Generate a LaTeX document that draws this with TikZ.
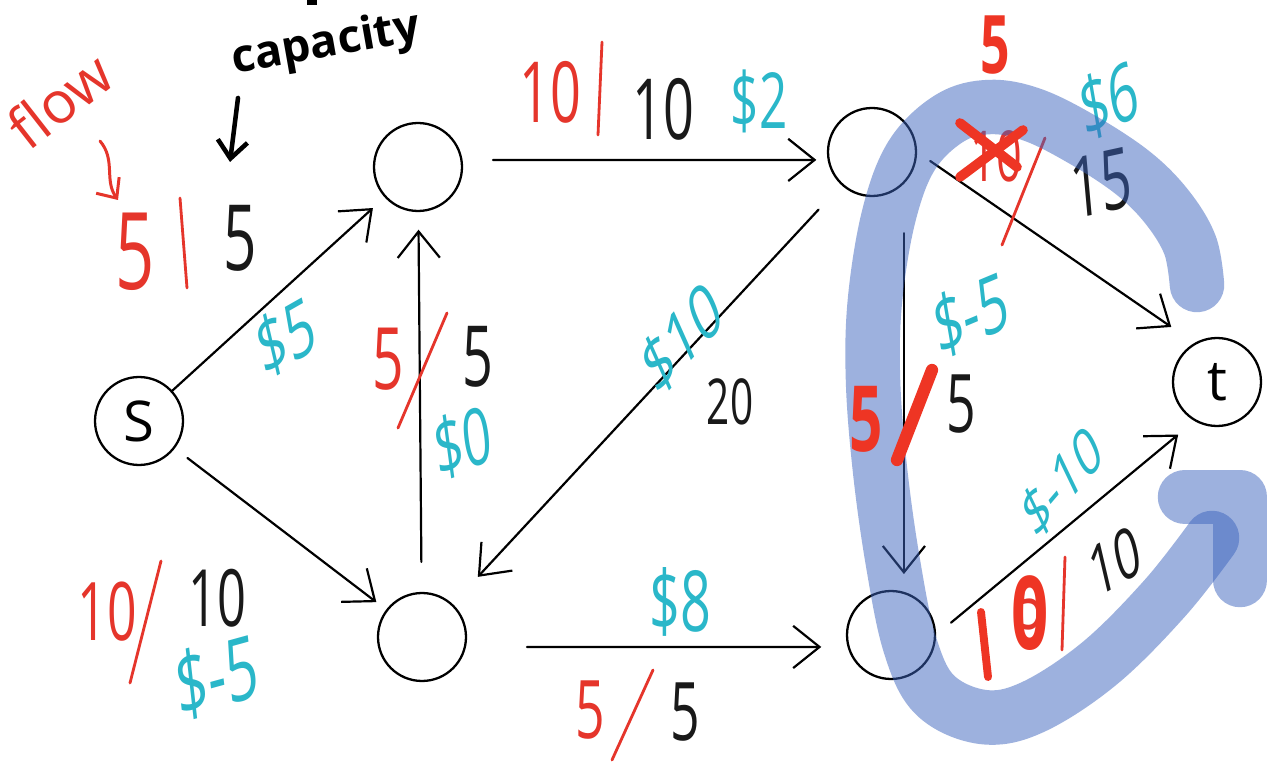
\documentclass[tikz,border=0pt]{standalone}
\usepackage{fontspec}
\setmainfont{Open Sans}
\usetikzlibrary{arrows.meta}
\definecolor{myred}{HTML}{E5352B}
\definecolor{boldred}{HTML}{EE3524}
\definecolor{mycyan}{HTML}{2AB7C9}
\definecolor{hlblue}{RGB}{60,100,190}
\newcommand\myfs[1]{\fontsize{#1}{#1}\selectfont}
\begin{document}
\begin{tikzpicture}[x=0.02cm,y=-0.02cm,
  vtx/.style={circle, draw=black, line width=1.3pt, minimum size=1.76cm, inner sep=0pt, font=\myfs{32}},
  edge/.style={line width=1.25pt, line cap=round, -{Straight Barb[length=15pt,width=24pt]}},
  hw/.style={inner sep=0pt, xscale=0.64},
  blk/.style={hw, text=black!90},
  flw/.style={hw, text=myred},
  cst/.style={hw, text=mycyan},
  bflw/.style={hw, text=boldred, font=\bfseries},
  redline/.style={draw=myred, line width=1.6pt, line cap=round},
  boldline/.style={draw=boldred, line cap=round},
  hl/.style={draw=hlblue, draw opacity=0.5, line width=31pt, line cap=round, line join=round}
]
\useasboundingbox (0,0) rectangle (1268,763);
\fill[white] (0,0) rectangle (1268,763);

% vertices
\node[vtx] (s) at (139,421) {S};
\node[vtx] (A) at (418,167) {};
\node[vtx] (B) at (422,637) {};
\node[vtx] (C) at (872,152) {};
\node[vtx] (D) at (891,635) {};
\node[vtx] (t) at (1217,382) {t};

% edges
\draw[edge, shorten >=9pt] (s) -- (A);
\draw[edge, shorten <=9pt, shorten >=7pt] (s) -- (B);
\draw[edge, shorten <=17pt, shorten >=10pt] (B) -- (A);
\draw[edge, shorten <=17pt, shorten >=6pt] ([yshift=4pt]A.east) -- ([yshift=-4.5pt]C.west);
\draw[edge, shorten <=19pt, shorten >=21pt] (C) -- (B);
\draw[edge, shorten <=34pt, shorten >=14pt] ([yshift=-5.7pt]B.east) -- ([yshift=-6.8pt]D.west);
\draw[edge, shorten <=28pt, shorten >=9pt] (C.-45) -- (C.-45 |- D.north);
\draw[edge, shorten <=9pt, shorten >=16pt] (C.east) -- (t.120);
\draw[edge, shorten <=11pt, shorten >=12pt] (D.east) -- (t.240);

% annotations: flow / capacity
\node[inner sep=0pt, text=myred, rotate=38] (lflow) at (60,100) {\myfs{33}flow};
\coordinate (fa1) at (100,141);
\coordinate (fa2) at (118,200);
\draw[myred, line width=1.7pt, line cap=round, -{Straight Barb[length=9pt,width=16pt]}] (fa1) .. controls (116,160) and (104,180) .. (fa2);
\node[inner sep=0pt, rotate=10] (lcap) at (326,45) {\myfs{26}\bfseries capacity};
\fill[black] (307,0) rectangle (317,5);
\coordinate (ca1) at (238,98);
\coordinate (ca2) at (230,162);
\draw[line width=2.6pt, line cap=round, -{Straight Barb[length=10pt,width=17pt]}] (ca1) -- (ca2);

% s -> A
\node[flw] (f1) at (135,252) {\myfs{61}5};
\draw[redline] (180,198) -- (187,288);
\node[blk] (c1) at (240,238) {\myfs{52}5};
\node[cst, rotate=20] (p1) at (286,337) {\myfs{45}\$5};

% B -> A
\node[flw] (f2) at (388,359) {\myfs{49}5};
\draw[redline] (447,313) -- (398,428);
\node[blk] (c2) at (478,357) {\myfs{48}5};
\node[cst, rotate=12] (p2) at (463,442) {\myfs{45}\$0};

% A -> C
\node[flw] (f3) at (550,92) {\myfs{48}10};
\draw[redline] (602,42) -- (598,135);
\node[blk] (c3) at (663,109) {\myfs{48}10};
\node[cst] (p3) at (759,101) {\myfs{44}\$2};

% C -> B
\node[cst, rotate=35] (p4) at (682,338) {\myfs{44}\$10};
\node[blk] (c4) at (730,402) {\myfs{36}20};

% s -> B
\node[flw] (f5) at (107,612) {\myfs{46}10};
\draw[redline] (161,561) -- (130,683);
\node[blk] (c5) at (217,598) {\myfs{45}10};
\node[cst, rotate=10] (p5) at (217,677) {\myfs{50}\$-5};

% B -> D
\node[cst] (p6) at (680,602) {\myfs{48}\$8};
\node[flw] (f6) at (590,710) {\myfs{46}5};
\draw[redline] (653,670) -- (612,760);
\node[blk] (c6) at (685,712) {\myfs{46}5};

% C -> t
\node[cst, rotate=15] (p7) at (1109,100) {\myfs{46}\$6};
\node[flw] (f7) at (996,156) {\myfs{40}10};
\draw[redline] (1045,138) -- (1002,245);
\node[blk, rotate=8] (c7) at (1101,183) {\myfs{48}15};

% C -> D
\node[cst, rotate=15] (p8) at (971,315) {\myfs{46}\$-5};
\node[blk] (c8) at (961,404) {\myfs{46}5};

% D -> t
\node[cst, rotate=37] (p9) at (1062,482) {\myfs{38}\$-10};
\node[blk, rotate=20] (c9) at (1115,561) {\myfs{40}10};
\node[flw] (f9) at (1030,605) {\myfs{40}5};
\draw[redline] (1065,557) -- (1062,650);

% highlight
\draw[hl] plot[smooth, tension=0.6] coordinates {(1197,285) (1190,245) (1167,207) (1133,173) (1083,140) (1033,115) (990,107) (950,118) (912,155) (889,215) (875,300) (873,380) (880,470) (893,563) (910,645) (935,695) (983,717) (1033,707) (1100,663) (1165,598) (1212,538)};
\draw[hl] (1185,497) -- (1240,497) -- (1240,580);

% bold red corrections
\node[bflw] (b1) at (995,45) {\myfs{46}5};
\draw[boldline, line width=5.5pt] (960,123) -- (1017,167);
\draw[boldline, line width=5.5pt] (1023,130) -- (960,177);
\node[bflw] (b2) at (866,419) {\myfs{52}5};
\draw[boldline, line width=7pt] (932,370) -- (897,460);
\draw[boldline, line width=4.5pt] (981,612) -- (988,677);
\node[bflw] (b3) at (1030,613) {\myfs{58}0};
\end{tikzpicture}
\end{document}
